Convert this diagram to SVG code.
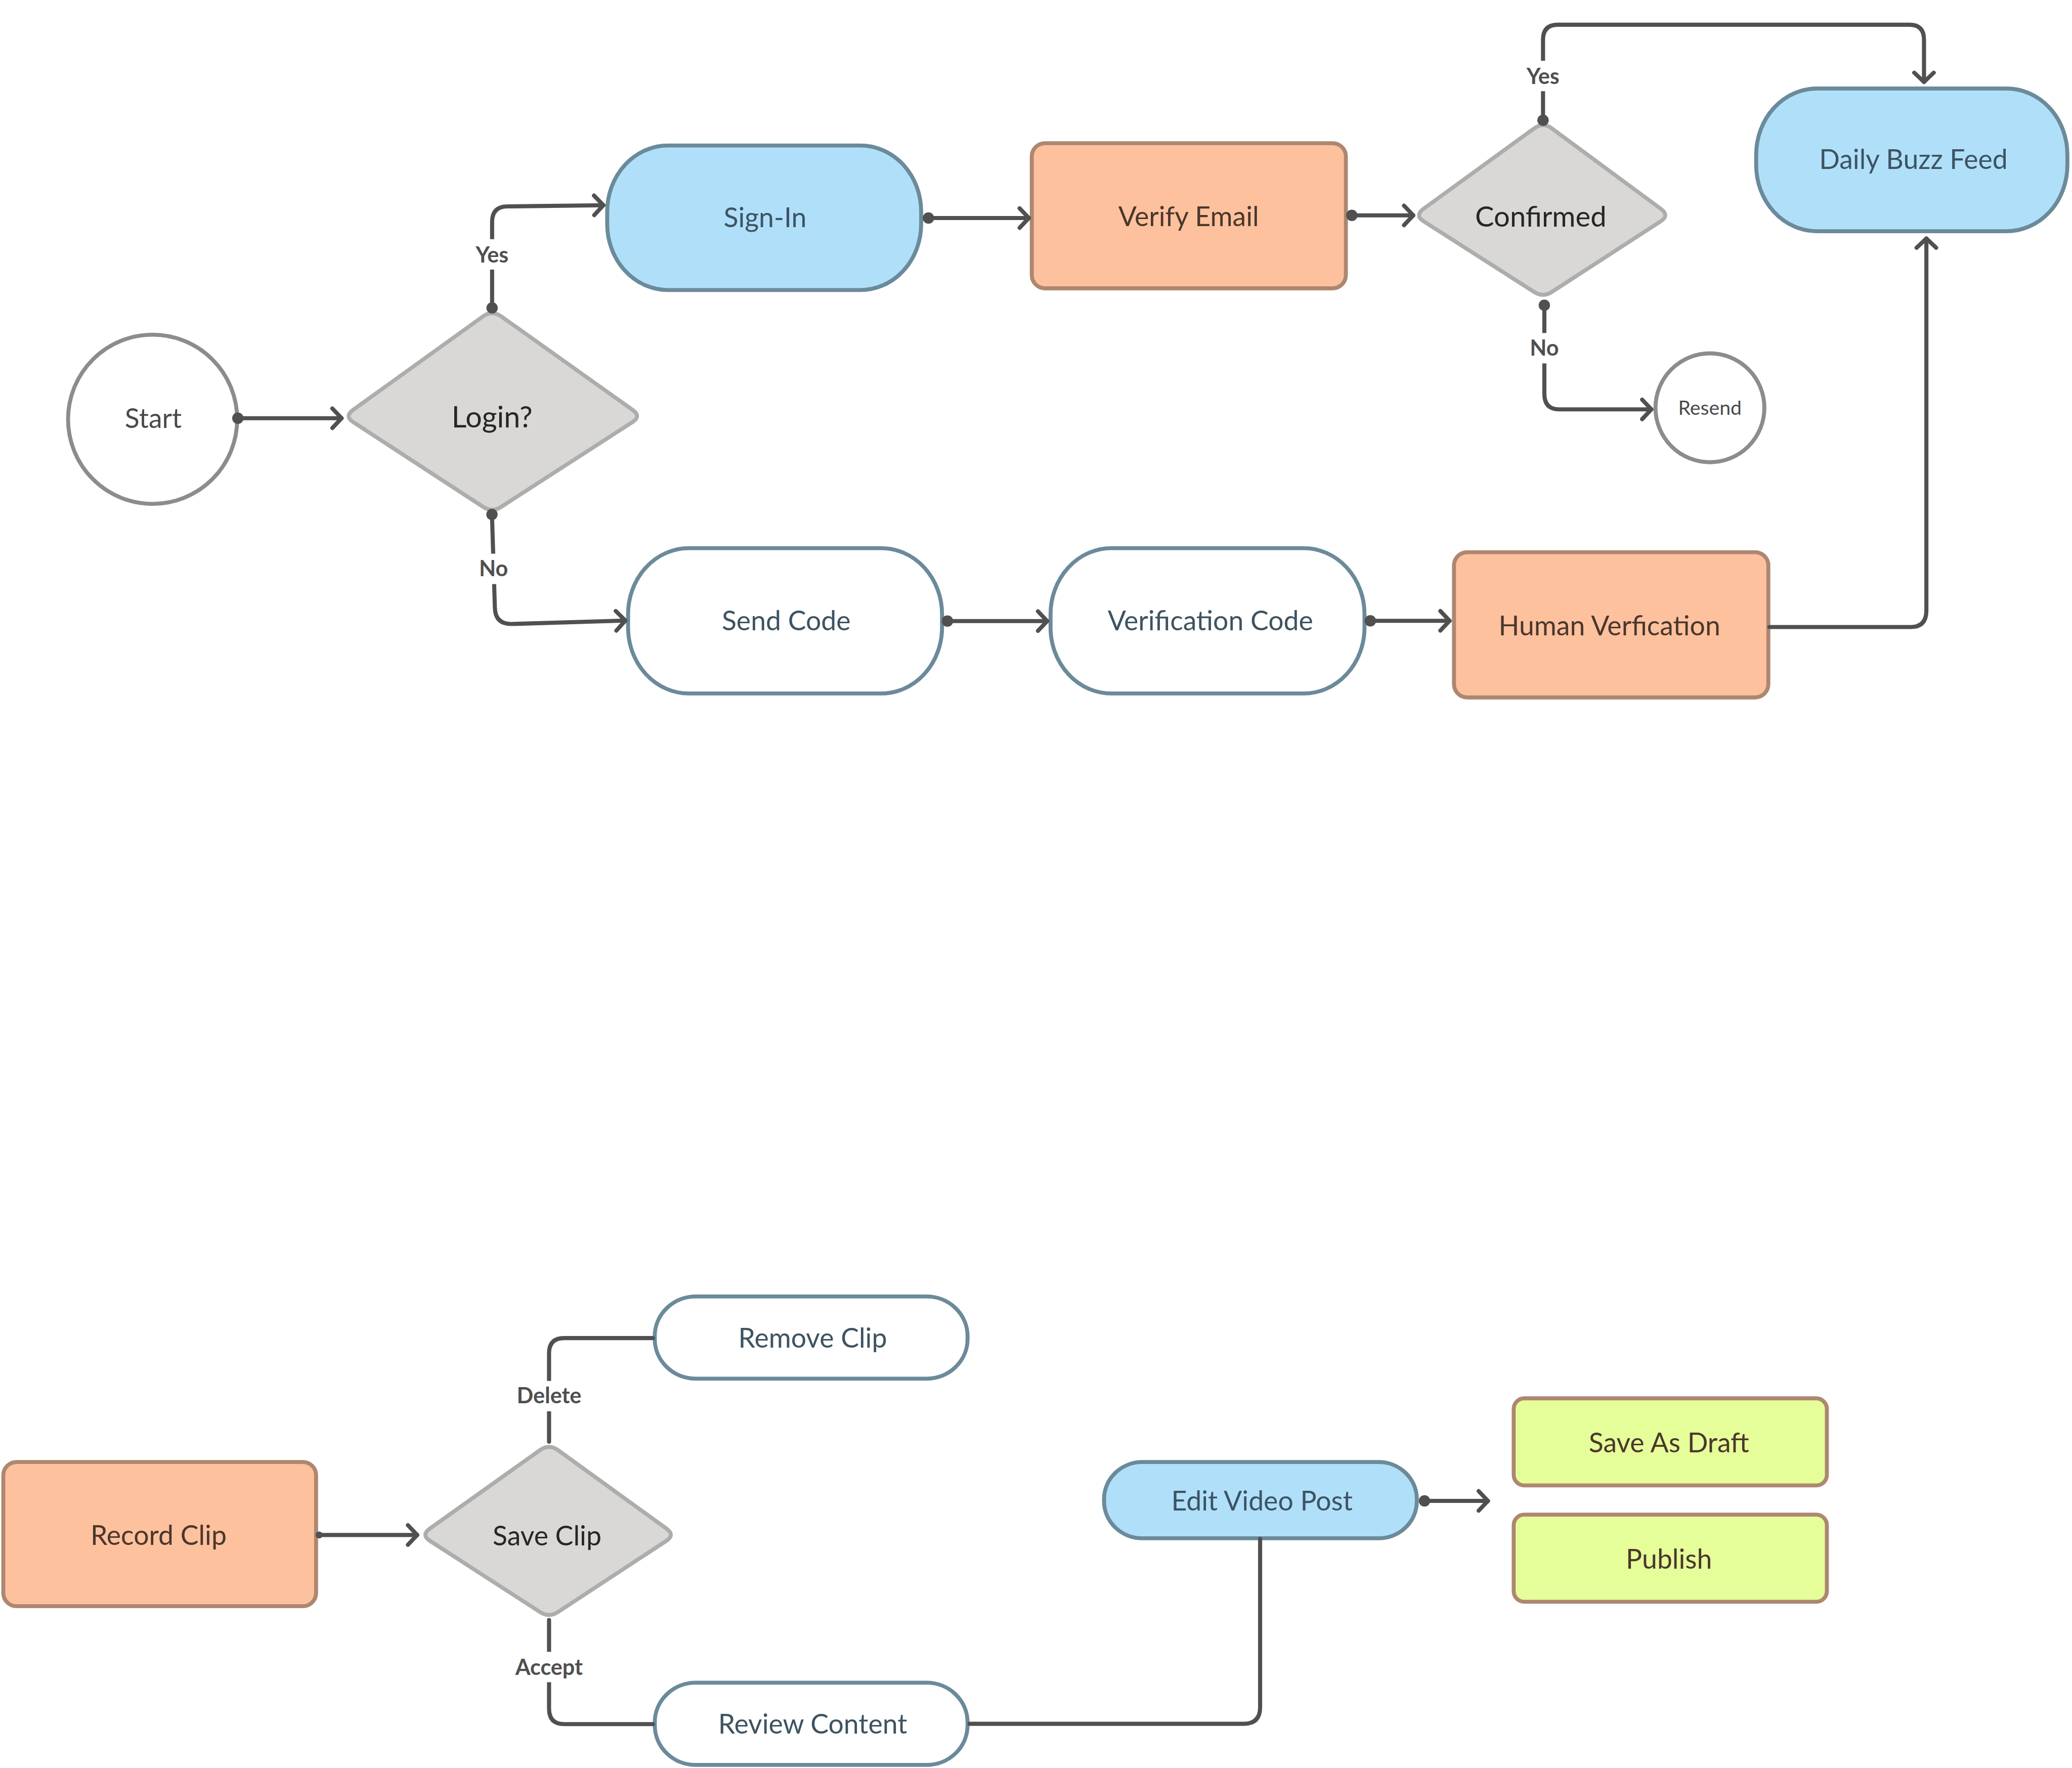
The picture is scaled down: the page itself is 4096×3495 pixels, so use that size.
<svg xmlns="http://www.w3.org/2000/svg" width="4096" height="3495" viewBox="0 0 4096 3495">
<style>
.t{font-family:Lato,"Open Sans","Liberation Sans",sans-serif;text-anchor:middle;font-size:20.5px}
.blue{fill:#b0dffa;stroke:#6b8a9a;stroke-width:3}
.white{fill:#ffffff;stroke:#6b8a9a;stroke-width:3}
.orange{fill:#fec19e;stroke:#ad8770;stroke-width:3}
.lime{fill:#e5fe99;stroke:#ad8770;stroke-width:3}
.dia{fill:#d9d8d6;stroke:#adadab;stroke-width:3;stroke-linejoin:round}
.circ{fill:#ffffff;stroke:#8c8c8c;stroke-width:3}
.tb{fill:#3d5361}
.to{fill:#4a372c}
.td{fill:#262626;font-size:21.5px}
.tc{fill:#4a4a4a}
.conn{fill:none;stroke:#505050;stroke-width:3.1;stroke-linecap:round;stroke-linejoin:round}
.lbl{font-family:Lato,"Open Sans","Liberation Sans",sans-serif;text-anchor:middle;font-size:16.5px;font-weight:700;fill:#4f4f4f}
.lbg{fill:#ffffff}
</style>
<defs>
<marker id="arr" markerUnits="userSpaceOnUse" markerWidth="20" markerHeight="20" refX="10" refY="10" orient="auto" overflow="visible">
<path d="M3 2.6 L10 10 L3 17.4" fill="none" stroke="#505050" stroke-width="3.1" stroke-linecap="round" stroke-linejoin="round"/>
</marker>
<marker id="dot" markerUnits="userSpaceOnUse" markerWidth="10" markerHeight="10" refX="5" refY="5" orient="auto" overflow="visible">
<circle cx="5" cy="5" r="4.3" fill="#505050"/>
</marker>
<marker id="dotsm" markerUnits="userSpaceOnUse" markerWidth="10" markerHeight="10" refX="5" refY="5" orient="auto" overflow="visible">
<circle cx="5" cy="5" r="2.6" fill="#505050"/>
</marker>
</defs>
<rect x="0" y="0" width="4096" height="3495" fill="#ffffff"/>
<g transform="scale(2.612245)">
<g id="nodes">
<g id="start"><circle class="circ" cx="115.5" cy="317.3" r="64"/><text class="t tc" x="116" y="324" font-size="19.5">Start</text></g>
<g id="login"><path class="dia" d="M365.69 239.33 Q372.4 234.5 379.19 239.33 L478.71 310.17 Q485.5 315 478.71 319.38 L379.19 383.62 Q372.4 388 365.69 383.62 L267.21 319.38 Q260.5 315 267.21 310.17 Z"/><text class="t td" x="372.4" y="323.5" style="font-size:22px">Login?</text></g>
<g id="signin"><rect class="blue" x="459.5" y="110.1" width="237.6" height="109.4" rx="46" ry="50"/><text class="t tb" x="579" y="172">Sign-In</text></g>
<g id="verify-email"><rect class="orange" x="780.8" y="108.4" width="237.7" height="109.8" rx="10"/><text class="t to" x="899.5" y="171">Verify Email</text></g>
<g id="confirmed"><path class="dia" d="M1160.97 97.16 Q1167.7 92.2 1174.34 97.16 L1256.86 158.04 Q1263.5 163 1256.86 167.36 L1174.34 220.94 Q1167.7 225.3 1160.97 220.94 L1077.23 167.36 Q1070.5 163 1077.23 158.04 Z"/><text class="t td" x="1166" y="171.5">Confirmed</text></g>
<g id="daily-buzz-feed"><rect class="blue" x="1329" y="67" width="235.5" height="108" rx="46" ry="50"/><text class="t tb" x="1448" y="128">Daily Buzz Feed</text></g>
<g id="resend"><circle class="circ" cx="1294" cy="308.6" r="41.2"/><text class="t tc" x="1294" y="314" style="font-size:15px">Resend</text></g>
<g id="send-code"><rect class="white" x="475.3" y="414.8" width="237.6" height="110" rx="46" ry="50"/><text class="t tb" x="595" y="477">Send Code</text></g>
<g id="verification-code"><rect class="white" x="795" y="414.8" width="237.6" height="110" rx="46" ry="50"/><text class="t tb" x="916" y="477">Verification Code</text></g>
<g id="human-verification"><rect class="orange" x="1100.3" y="417.9" width="237.9" height="109.9" rx="10"/><text class="t to" x="1218" y="481">Human Verfication</text></g>
<g id="record-clip"><rect class="orange" x="2.5" y="1106.4" width="236.7" height="109.1" rx="10"/><text class="t to" x="120" y="1169">Record Clip</text></g>
<g id="save-clip"><path class="dia" d="M408.71 1097.34 Q415.5 1092.5 422.19 1097.34 L504.31 1156.76 Q511 1161.6 504.31 1165.99 L422.19 1219.91 Q415.5 1224.3 408.71 1219.91 L325.29 1165.99 Q318.5 1161.6 325.29 1156.76 Z"/><text class="t td" x="414" y="1169.5" style="font-size:20.5px">Save Clip</text></g>
<g id="remove-clip"><rect class="white" x="495.5" y="981.1" width="236.7" height="62.2" rx="31" ry="30"/><text class="t tb" x="615" y="1020">Remove Clip</text></g>
<g id="review-content"><rect class="white" x="495.5" y="1273.4" width="236.7" height="62.2" rx="31" ry="30"/><text class="t tb" x="615" y="1312">Review Content</text></g>
<g id="edit-video-post"><rect class="blue" x="835.5" y="1106.4" width="236.7" height="57.7" rx="29" ry="28"/><text class="t tb" x="955" y="1143">Edit Video Post</text></g>
<g id="save-as-draft"><rect class="lime" x="1145.5" y="1058.2" width="237" height="65.9" rx="8"/><text class="t to" x="1263" y="1099">Save As Draft</text></g>
<g id="publish"><rect class="lime" x="1145.5" y="1146.2" width="237" height="65.9" rx="8"/><text class="t to" x="1263" y="1187">Publish</text></g>
</g>
<g id="connectors">
<path class="conn" d="M180 316.5 L258.5 316.5" marker-start="url(#dot)" marker-end="url(#arr)"/>
<path class="conn" d="M372.4 233 L372.4 168 Q372.4 156.3 384 156.2 L456.6 155.3" marker-start="url(#dot)" marker-end="url(#arr)"/>
<path class="conn" d="M702.6 165 L778.6 165" marker-start="url(#dot)" marker-end="url(#arr)"/>
<path class="conn" d="M1023 163 L1069.5 163" marker-start="url(#dot)" marker-end="url(#arr)"/>
<path class="conn" d="M1167.7 91 L1167.7 30 Q1167.7 18.7 1179 18.7 L1445 18.7 Q1456 18.7 1456 30 L1456 62" marker-start="url(#dot)" marker-end="url(#arr)"/>
<path class="conn" d="M1168.7 231 L1168.7 298 Q1168.7 309.8 1180 309.8 L1249.7 309.8" marker-start="url(#dot)" marker-end="url(#arr)"/>
<path class="conn" d="M372.3 389.3 L374.5 460 Q374.8 472.2 387 472.2 L473.2 469.6" marker-start="url(#dot)" marker-end="url(#arr)"/>
<path class="conn" d="M717 470 L792.5 470" marker-start="url(#dot)" marker-end="url(#arr)"/>
<path class="conn" d="M1037 469.8 L1097 469.8" marker-start="url(#dot)" marker-end="url(#arr)"/>
<path class="conn" d="M1339 474.5 L1446 474.5 Q1457.8 474.5 1457.8 462 L1457.8 180.5" marker-end="url(#arr)"/>
<path class="conn" d="M241.5 1161.6 L315.7 1161.6" marker-start="url(#dotsm)" marker-end="url(#arr)"/>
<path class="conn" d="M415.5 1091 L415.5 1024 Q415.5 1012.6 427 1012.6 L494 1012.6"/>
<path class="conn" d="M415.5 1226 L415.5 1293 Q415.5 1304.7 427 1304.7 L494 1304.7"/>
<path class="conn" d="M733.7 1304.5 L941 1304.5 Q953.6 1304.5 953.6 1292 L953.6 1164.5"/>
<path class="conn" d="M1078 1135.8 L1126 1135.8" marker-start="url(#dot)" marker-end="url(#arr)"/>
<rect class="lbg" x="358" y="181" width="29" height="23"/><text class="lbl" x="372.4" y="198.5">Yes</text>
<rect class="lbg" x="1153" y="46" width="29" height="23"/><text class="lbl" x="1167.7" y="63.5">Yes</text>
<rect class="lbg" x="1156" y="252" width="26" height="23"/><text class="lbl" x="1168.7" y="269">No</text>
<rect class="lbg" x="360" y="419" width="27" height="23"/><text class="lbl" x="373.5" y="436">No</text>
<rect class="lbg" x="391" y="1045" width="49" height="23"/><text class="lbl" x="415.5" y="1062">Delete</text>
<rect class="lbg" x="390" y="1250" width="51" height="23"/><text class="lbl" x="415.5" y="1267.5">Accept</text>
</g>
</g>
</svg>
